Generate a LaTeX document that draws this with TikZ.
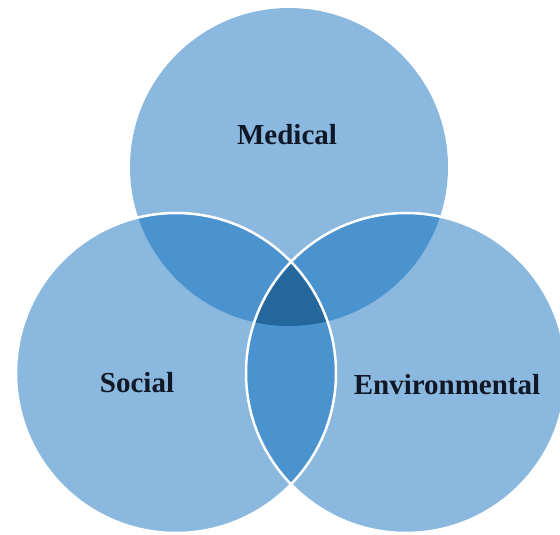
\documentclass[tikz,border=0pt]{standalone}
\usepackage{fontspec}
\setmainfont{Liberation Serif}
\definecolor{venlight}{HTML}{8BB8DE}
\definecolor{venmid}{HTML}{4A93CF}
\definecolor{vendark}{HTML}{23679D}
\definecolor{lbltext}{HTML}{101828}

\begin{document}
\begin{tikzpicture}[x=1pt,y=-1pt,
        lbl/.style={font=\bfseries\fontsize{29}{32}\selectfont,text=lbltext,anchor=base}]
        \useasboundingbox (0,0) rectangle (560,535);

        \coordinate (med) at (289,167);
        \coordinate (soc) at (176,373);
        \coordinate (env) at (406,373);

        % Circles
        \foreach \c/\r in {med/159pt, soc/160pt, env/160pt} {
            \fill[venlight] (\c) circle (\r);
        }

        % Overlaps of two
        \begin{scope}
            \clip (med) circle (159pt);
            \foreach \c in {soc, env} {
                \fill[venmid] (\c) circle (160pt);
            }
        \end{scope}
        \begin{scope}
            \clip (soc) circle (160pt);
            \fill[venmid] (env) circle (160pt);
        \end{scope}

        % Overlap of three
        \begin{scope}
            \clip (med) circle (159pt);
            \clip (soc) circle (160pt);
            \fill[vendark] (env) circle (160pt);
        \end{scope}

        % Outlines
        \foreach \c in {soc, env} {
            \draw[white,line width=2.5pt] (\c) circle (160pt);
        }

        % Labels
        \node[lbl] (medlbl) at (287,144) {Medical};
        \node[lbl] (soclbl) at (137,392) {Social};
        \node[lbl] (envlbl) at (447,394) {Environmental};
    \end{tikzpicture}
\end{document}
